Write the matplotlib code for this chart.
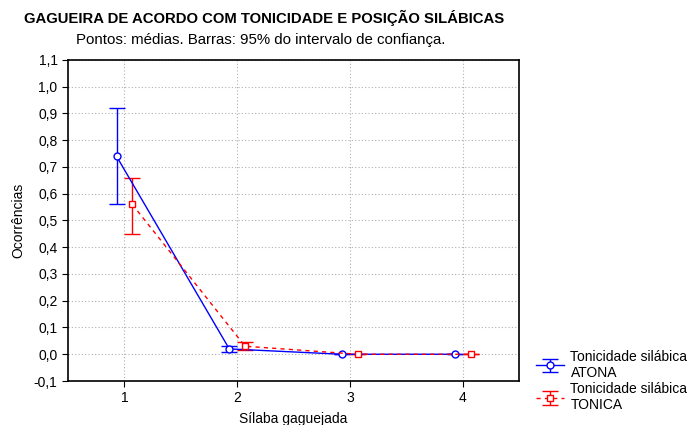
import numpy as np
import matplotlib
matplotlib.use("Agg")
import matplotlib.pyplot as plt

plt.rcParams['font.family'] = ['Liberation Sans', 'DejaVu Sans']

silabas = [1, 2, 3, 4]
atona_media = [0.74, 0.02, 0.0, 0.0]
atona_inf = [0.56, 0.01, 0.0, 0.0]
atona_sup = [0.92, 0.03, 0.0, 0.0]
tonica_media = [0.56, 0.03, 0.0, 0.0]
tonica_inf = [0.45, 0.015, 0.0, 0.0]
tonica_sup = [0.66, 0.045, 0.0, 0.0]
yticks = [-0.1, 0.0, 0.1, 0.2, 0.3, 0.4, 0.5, 0.6, 0.7, 0.8, 0.9, 1.0, 1.1]

fig = plt.figure(figsize=(6.94, 4.25), dpi=100)
ax = fig.add_axes([0.098, 0.1035, 0.650, 0.7555])

x = np.array(silabas)
am = np.array(atona_media)
tm = np.array(tonica_media)
err_a = [am - np.array(atona_inf), np.array(atona_sup) - am]
err_t = [tm - np.array(tonica_inf), np.array(tonica_sup) - tm]

ha = ax.errorbar(x - 0.07, am, yerr=err_a, color='#0000ff', lw=1.0,
                 marker='o', ms=5, mfc='white', mec='#0000ff', mew=1.0,
                 capsize=6, elinewidth=1.0, capthick=1.0)
ht = ax.errorbar(x + 0.07, tm, yerr=err_t, color='#ff0000', lw=1.0, ls=(0, (3, 3)),
                 marker='s', ms=5, mfc='white', mec='#ff0000', mew=1.0,
                 capsize=6, elinewidth=1.0, capthick=1.0)

ax.set_xlim(0.5, 4.5)
ax.set_ylim(-0.1, 1.1)
ax.set_xticks(silabas)
ax.set_yticks(yticks)
ax.set_yticklabels([f"{v:.1f}".replace('.', ',') for v in yticks])
ax.grid(True, ls=(0, (1, 2)), color='#b0b0b0', lw=0.8)
ax.tick_params(labelsize=10, length=4, direction='out')
for s in ax.spines.values():
    s.set_linewidth(1.2)

ax.set_xlabel("Sílaba gaguejada", fontsize=10, labelpad=5)
ax.set_ylabel("Ocorrências", fontsize=10, labelpad=6)

fig.text(0.38, 0.957, "GAGUEIRA DE ACORDO COM TONICIDADE E POSIÇÃO SILÁBICAS",
         ha='center', va='center', fontsize=10.7, fontweight='bold')
fig.text(0.375, 0.905, "Pontos: médias. Barras: 95% do intervalo de confiança.",
         ha='center', va='center', fontsize=10.8)

fig.legend([ha, ht], ["Tonicidade silábica\nATONA", "Tonicidade silábica\nTONICA"],
           loc='upper left', bbox_to_anchor=(0.758, 0.2), frameon=False,
           fontsize=10, handlelength=2.0, handletextpad=0.5, labelspacing=0.15,
           borderpad=0.2)

fig.savefig("out.png", dpi=100)
